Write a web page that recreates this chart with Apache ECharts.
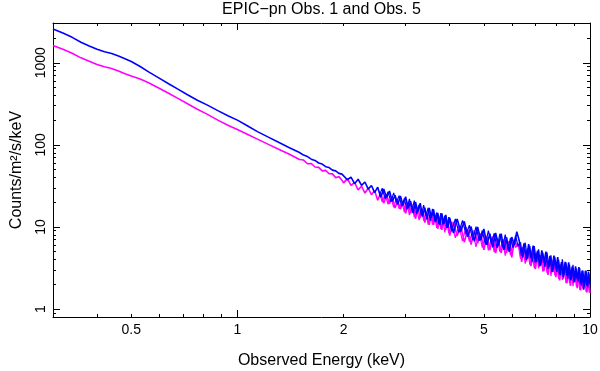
<!DOCTYPE html>
<html>
<head>
<meta charset="utf-8">
<script src="https://cdn.jsdelivr.net/npm/echarts@6/dist/echarts.min.js"></script>
<style>
html, body { margin: 0; padding: 0; background: #fff; }
#chart { width: 600px; height: 371px; }
</style>
</head>
<body>
<div id="chart"></div>
<script>
// energies (keV) of the plotted channels
const energy = [
  0.30, 0.32, 0.34, 0.36, 0.38, 0.40, 0.42, 0.44, 0.46, 0.48, 0.50, 0.53, 0.56, 0.60, 0.64, 0.68, 0.72, 0.77, 0.82, 0.88, 0.94, 1.00, 1.07, 1.14, 1.22, 1.30, 1.40,
  1.50, 1.54, 1.58, 1.62, 1.66, 1.70, 1.74, 1.78, 1.82, 1.86, 1.90, 1.94, 1.98,
  2.00, 2.05, 2.10, 2.15, 2.20, 2.25, 2.30, 2.35, 2.40, 2.45, 2.50, 2.55, 2.60, 2.65, 2.70, 2.75, 2.80, 2.85, 2.90, 2.95,
  3.00, 3.05, 3.10, 3.15, 3.20, 3.25, 3.30, 3.35, 3.40, 3.45, 3.50, 3.55, 3.60, 3.65, 3.70, 3.75, 3.80, 3.85, 3.90, 3.95,
  4.0, 4.1, 4.2, 4.3, 4.4, 4.5, 4.6, 4.7, 4.8, 4.9, 5.0, 5.1, 5.2, 5.3, 5.4, 5.5, 5.6, 5.7, 5.8, 5.9,
  6.0, 6.1, 6.2, 6.3, 6.4, 6.5, 6.6, 6.7, 6.8, 6.9, 7.0, 7.1, 7.2, 7.3, 7.4, 7.5, 7.6, 7.7, 7.8, 7.9,
  8.0, 8.1, 8.2, 8.3, 8.4, 8.5, 8.6, 8.7, 8.8, 8.9, 9.0, 9.1, 9.2, 9.3, 9.4, 9.5, 9.6, 9.7, 9.8, 9.9, 10.0
];
// Obs. 1 (blue), counts/m2/s/keV
const obs1 = [
  2580, 2300, 2040, 1780, 1600, 1460, 1360, 1295, 1207, 1119, 1037, 901, 774, 649, 551, 474, 411, 350, 307, 261, 226, 200, 170, 145, 125, 109, 93,
  80.6, 75.0, 72.0, 67.0, 64.6, 60.1, 58.3, 54.2, 52.9, 49.2, 48.2, 44.9, 44.0,
  46.2, 37.6, 40.5, 33.6, 38.1, 32.1, 35.3, 28.9, 32.0, 26.2, 30.5, 23.0, 28.9, 22.9, 27.4, 20.4, 24.3, 18.7, 23.8, 18.4,
  23.4, 16.9, 20.5, 14.8, 20.1, 15.4, 19.5, 13.4, 17.2, 12.4, 17.1, 12.9, 16.4, 11.5, 14.8, 10.5, 14.6, 10.9, 14.0, 9.74,
  13.0, 8.45, 12.5, 8.79, 11.7, 7.59, 10.1, 6.70, 10.0, 6.88, 9.44, 6.06, 8.29, 5.65, 8.44, 5.90, 8.30, 5.26, 7.44, 4.99,
  7.54, 6.02, 8.77, 6.79, 4.45, 6.32, 3.96, 6.16, 4.17, 5.91, 3.70, 5.13, 3.33, 5.20, 3.65, 5.01, 3.10, 4.44, 2.83, 4.48,
  3.05, 4.29, 2.63, 3.72, 2.44, 3.76, 2.56, 3.70, 2.24, 3.28, 2.11, 3.32, 2.31, 3.24, 2.04, 2.95, 1.72, 2.93, 1.93, 2.85, 1.99
];
// Obs. 5 (magenta)
const obs5 = [
  1620, 1459, 1305, 1148, 1041, 955, 892, 850, 792, 734, 690, 634, 570, 490, 422, 366, 319, 272, 237, 200, 173, 154, 134, 117.5, 102, 89.8, 77.5,
  66.2, 65.3, 58.9, 59.3, 53.7, 53.2, 48.2, 48.9, 44.5, 44.3, 39.9, 41.0, 37.0,
  34.4, 38.8, 32.0, 34.8, 28.3, 31.3, 25.9, 29.6, 24.7, 27.7, 21.2, 25.9, 19.5, 24.5, 19.2, 23.3, 17.0, 20.7, 16.4, 20.5,
  14.6, 19.8, 14.7, 18.0, 12.6, 17.2, 12.8, 16.5, 11.3, 14.5, 10.6, 14.4, 10.6, 13.9, 9.51, 12.5, 9.24, 12.6, 9.26, 11.9,
  7.86, 11.5, 7.77, 10.3, 6.52, 9.25, 6.12, 9.11, 6.34, 8.35, 5.25, 7.63, 5.21, 7.69, 4.81, 6.81, 4.85, 7.06, 4.83, 6.68,
  4.26, 6.87, 5.83, 6.01, 3.76, 5.59, 3.81, 5.44, 3.33, 4.73, 3.06, 4.73, 3.31, 4.59, 2.89, 4.07, 2.60, 4.06, 2.79, 3.93,
  2.44, 3.40, 2.23, 3.43, 2.32, 3.37, 2.07, 2.98, 1.92, 3.00, 2.11, 2.94, 1.80, 2.66, 1.69, 2.60, 1.81, 2.59, 1.59, 2.28, 1.58
];

// the in-between channels above 2.5 keV, where the spectra are noisy
const energyB = [
  2.525, 2.575, 2.625, 2.675, 2.725, 2.775, 2.825, 2.875, 2.925, 2.975,
  3.025, 3.075, 3.125, 3.175, 3.225, 3.275, 3.325, 3.375, 3.425, 3.475,
  3.525, 3.575, 3.625, 3.675, 3.725, 3.775, 3.825, 3.875, 3.925, 3.975,
  4.05, 4.15, 4.25, 4.35, 4.45, 4.55, 4.65, 4.75, 4.85, 4.95,
  5.05, 5.15, 5.25, 5.35, 5.45, 5.55, 5.65, 5.75, 5.85, 5.95,
  6.05, 6.15, 6.25, 6.35, 6.45, 6.55, 6.65, 6.75, 6.85, 6.95,
  7.05, 7.15, 7.25, 7.35, 7.45, 7.55, 7.65, 7.75, 7.85, 7.95,
  8.05, 8.15, 8.25, 8.35, 8.45, 8.55, 8.65, 8.75, 8.85, 8.95,
  9.05, 9.15, 9.25, 9.35, 9.45, 9.55, 9.65, 9.75, 9.85, 9.95
];
const obs1B = [
  23.9, 29.6, 22.0, 26.8, 20.3, 26.0, 19.9, 24.0, 17.8, 22.3,
  16.4, 21.9, 15.9, 20.9, 14.3, 18.7, 13.8, 18.4, 13.5, 17.1,
  11.9, 16.6, 11.8, 15.0, 10.9, 14.7, 10.7, 13.7, 9.71, 13.2,
  8.85, 12.5, 8.56, 12.0, 8.11, 10.5, 6.91, 10.1, 6.76, 9.05,
  6.12, 9.05, 6.22, 8.38, 5.54, 8.24, 5.65, 8.04, 5.30, 7.35,
  5.58, 7.84, 5.82, 6.49, 4.24, 6.44, 4.10, 5.88, 3.73, 5.83,
  3.74, 5.33, 3.37, 4.87, 3.27, 4.90, 3.26, 4.50, 2.83, 4.34,
  2.84, 3.99, 2.60, 4.03, 2.63, 3.71, 2.32, 3.47, 2.30, 3.46,
  2.15, 3.12, 2.16, 3.15, 1.92, 2.94, 1.94, 2.94, 1.83, 2.69
];
const obs5B = [
  26.9, 20.1, 25.2, 18.9, 22.9, 17.3, 22.2, 16.6, 20.2, 15.2,
  19.8, 13.9, 18.8, 13.2, 17.1, 12.1, 16.8, 11.9, 15.4, 10.7,
  14.9, 10.7, 13.6, 9.71, 13.5, 9.44, 12.3, 8.61, 11.9, 8.40,
  11.5, 7.38, 10.3, 6.73, 10.0, 6.64, 8.98, 5.73, 8.50, 5.61,
  8.05, 5.20, 7.39, 4.92, 7.44, 5.01, 6.84, 4.47, 6.74, 4.52,
  6.66, 5.60, 6.33, 4.10, 5.68, 3.58, 5.44, 3.46, 4.97, 3.15,
  4.88, 3.13, 4.51, 2.85, 4.34, 2.77, 3.94, 2.53, 3.97, 2.56,
  3.62, 2.32, 3.51, 2.26, 3.26, 2.07, 3.22, 2.07, 3.00, 1.90,
  2.92, 1.87, 2.68, 1.72, 2.69, 1.74, 2.52, 1.61, 2.44, 1.58
];

const xMajorTicks = [1, 10];
const xMinorTicks = [0.4, 0.5, 0.6, 0.7, 0.8, 0.9, 2, 3, 4, 5, 6, 7, 8, 9];
const xLabels = [0.5, 1, 2, 5, 10];
const yMajorTicks = [1, 10, 100, 1000];
const yMinorTicks = [0.9, 2, 3, 4, 5, 6, 7, 8, 9, 20, 30, 40, 50, 60, 70, 80, 90,
  200, 300, 400, 500, 600, 700, 800, 900, 2000, 3000];
const yLabels = [1, 10, 100, 1000];

const font = '"Liberation Sans", Arial, sans-serif';
const fmt = v => String(+Number(v).toPrecision(3));
const blue = '#0000ff', magenta = '#ff00ff';

function axis(dim, pos, ticks, len, label, line, extra) {
  let a = {
    type: 'log',
    logBase: 10,
    position: pos,
    axisLine: { show: line, lineStyle: { color: '#000', width: 1 } },
    axisTick: { show: true, inside: true, length: len, customValues: ticks, lineStyle: { color: '#000', width: 1 } },
    axisLabel: label || { show: false },
    splitLine: { show: false },
    minorTick: { show: false },
    minorSplitLine: { show: false }
  };
  if (dim == 'x') { a.min = 0.3; a.max = 10; } else { a.min = 0.8; a.max = 3050; }
  return Object.assign(a, extra || {});
}

function spectrum(name, xs, ys, color, width) {
  return {
    name: name, type: 'line', xAxisIndex: 0, yAxisIndex: 0,
    data: xs.map((e, i) => [e, ys[i]]),
    showSymbol: false, color: color,
    lineStyle: { width: width, color: color }
  };
}

let chart = echarts.init(document.getElementById('chart'), null, { renderer: 'canvas' });
chart.setOption({
  animation: false,
  backgroundColor: '#fff',
  grid: { left: 53, right: 10, top: 23, bottom: 54, containLabel: false, outerBoundsMode: 'none' },
  xAxis: [
    axis('x', 'bottom', xMajorTicks, 7, {
      show: true, customValues: xLabels, formatter: fmt, color: '#000',
      fontFamily: font, fontSize: 14, margin: 6
    }, true, {
      name: 'Observed Energy (keV)', nameLocation: 'middle', nameGap: 36,
      nameTextStyle: { color: '#000', fontFamily: font, fontSize: 16 }
    }),
    axis('x', 'bottom', xMinorTicks, 3, null, false),
    axis('x', 'top', xMajorTicks, 7, null, true, {
      name: 'EPIC\u2212pn Obs. 1 and Obs. 5', nameLocation: 'middle', nameGap: 5,
      nameTextStyle: { color: '#000', fontFamily: font, fontSize: 16 }
    }),
    axis('x', 'top', xMinorTicks, 3, null, false)
  ],
  yAxis: [
    axis('y', 'left', yMajorTicks, 7, null, true, {
      name: 'Counts/m\u00b2/s/keV', nameLocation: 'middle', nameGap: 28, nameRotate: 90,
      nameTextStyle: { color: '#000', fontFamily: font, fontSize: 16 }
    }),
    axis('y', 'left', yMinorTicks, 3, null, false),
    axis('y', 'right', yMajorTicks, 7, null, true),
    axis('y', 'right', yMinorTicks, 3, null, false)
  ],
  series: [
    spectrum('Obs. 5', energy, obs5, magenta, 1.6),
    spectrum('Obs. 5 ', energyB, obs5B, magenta, 1.2),
    spectrum('Obs. 1', energy, obs1, blue, 1.6),
    spectrum('Obs. 1 ', energyB, obs1B, blue, 1.2)
  ]
});

// count-axis labels read bottom-to-top; placed with the axis's own scale
chart.setOption({
  graphic: yLabels.map(v => ({
    type: 'text',
    x: 41,
    y: chart.convertToPixel({ yAxisIndex: 0 }, v),
    rotation: Math.PI / 2,
    silent: true,
    style: {
      text: fmt(v), fill: '#000', font: '14px ' + font,
      align: 'center', verticalAlign: 'middle'
    }
  }))
});
</script>
</body>
</html>
